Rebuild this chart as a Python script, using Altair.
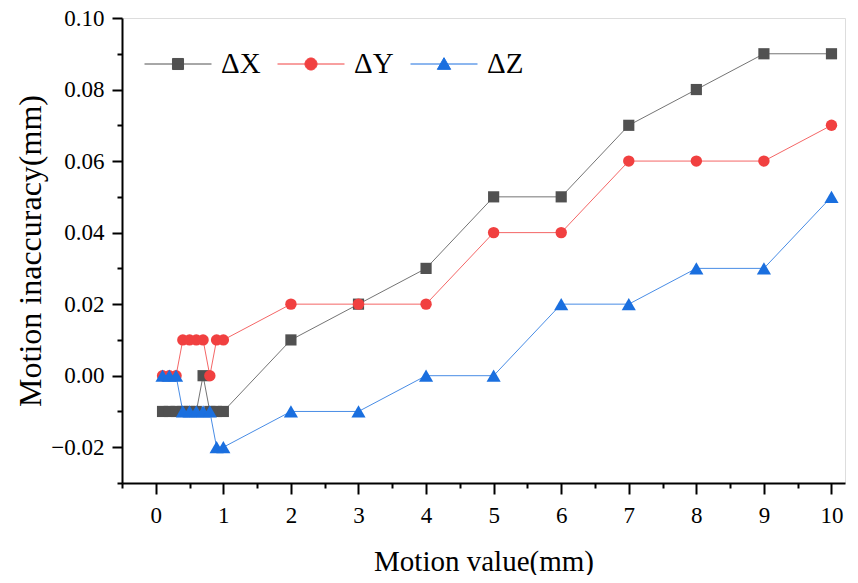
import altair as alt
import pandas as pd

# ---- data ----
x_vals = [0.1, 0.2, 0.3, 0.4, 0.5, 0.6, 0.7, 0.8, 0.9, 1.0, 2, 3, 4, 5, 6, 7, 8, 9, 10]
dX = [-0.01, -0.01, -0.01, -0.01, -0.01, -0.01, 0.0, -0.01, -0.01, -0.01,
      0.01, 0.02, 0.03, 0.05, 0.05, 0.07, 0.08, 0.09, 0.09]
dY = [0.0, 0.0, 0.0, 0.01, 0.01, 0.01, 0.01, 0.0, 0.01, 0.01,
      0.02, 0.02, 0.02, 0.04, 0.04, 0.06, 0.06, 0.06, 0.07]
dZ = [0.0, 0.0, 0.0, -0.01, -0.01, -0.01, -0.01, -0.01, -0.02, -0.02,
      -0.01, -0.01, 0.0, 0.0, 0.02, 0.02, 0.03, 0.03, 0.05]
series_names = ["ΔX", "ΔY", "ΔZ"]
series_colors = ["#515151", "#F14040", "#1A6FDF"]
series_shapes = ["square", "circle", "triangle-up"]
series_sizes = [125, 130, 200]
legend_paths = [
    "M-1,0H1M-0.165,-0.165H0.165V0.165H-0.165Z",
    "M-1,0H1M-0.18,0A0.18,0.18,0,1,0,0.18,0A0.18,0.18,0,1,0,-0.18,0Z",
    "M-1,0H1M0,-0.19L0.2,0.16L-0.2,0.16Z",
]

x_major = [0, 1, 2, 3, 4, 5, 6, 7, 8, 9, 10]
x_minor = [-0.5, 0.5, 1.5, 2.5, 3.5, 4.5, 5.5, 6.5, 7.5, 8.5, 9.5]
y_major = [-0.02, 0.0, 0.02, 0.04, 0.06, 0.08, 0.10]
y_minor = [-0.03, -0.01, 0.01, 0.03, 0.05, 0.07, 0.09]

rows = []
for name, vals in zip(series_names, [dX, dY, dZ]):
    for i, (xv, yv) in enumerate(zip(x_vals, vals)):
        rows.append({"series": name, "x": xv, "y": yv, "i": i})
df = pd.DataFrame(rows)

FONT = "Liberation Serif"

xscale = alt.Scale(domain=[-0.5, 10.2], nice=False, zero=False)
yscale = alt.Scale(domain=[-0.03, 0.10], nice=False, zero=False)

legend = alt.Legend(
    title=None,
    orient="none",
    legendX=22,
    legendY=12,
    direction="horizontal",
    labelFont=FONT,
    labelFontSize=29,
    labelColor="black",
    labelOffset=9,
    columnPadding=14,
    symbolSize=4489,
    symbolStrokeWidth=1,
    symbolOpacity=1,
)

x_axis = alt.Axis(
    orient="bottom", values=x_major, format="d", title="Motion value(mm)",
    labelFont=FONT, labelFontSize=23, labelColor="black", labelPadding=10,
    titleFont=FONT, titleFontSize=29, titleFontWeight="normal", titleColor="black",
    titlePadding=20,
    tickSize=11, tickWidth=2, tickColor="black",
    domainWidth=2, domainColor="black", grid=False,
)
y_axis = alt.Axis(
    orient="left", values=y_major, format=".2f", title="Motion inaccuracy(mm)",
    labelFont=FONT, labelFontSize=23, labelColor="black", labelPadding=8,
    titleFont=FONT, titleFontSize=32, titleFontWeight="normal", titleColor="black",
    titlePadding=3,
    tickSize=10, tickWidth=2, tickColor="black",
    domainWidth=2, domainColor="black", grid=False,
)
x_axis_minor = alt.Axis(orient="bottom", values=x_minor, labels=False, title=None, tickSize=5,
                        tickWidth=2, tickColor="black", domain=False, grid=False)
y_axis_minor = alt.Axis(orient="left", values=y_minor, labels=False, title=None, tickSize=5,
                        tickWidth=2, tickColor="black", domain=False, grid=False)

base = alt.Chart(df)

layers = []
first = True
for name, col, shp, sz in zip(series_names, series_colors, series_shapes, series_sizes):
    sub = base.transform_filter(alt.datum.series == name)
    layers.append(
        sub.mark_line(strokeWidth=1, opacity=0.8, color=col).encode(
            x=alt.X("x:Q", scale=xscale, axis=x_axis if first else None),
            y=alt.Y("y:Q", scale=yscale, axis=y_axis if first else None),
            order="i:Q",
        )
    )
    layers.append(
        sub.mark_point(filled=True, opacity=1, shape=shp, size=sz, color=col).encode(
            x=alt.X("x:Q", scale=xscale, axis=None),
            y=alt.Y("y:Q", scale=yscale, axis=None),
        )
    )
    first = False

# legend + minor ticks: no marks drawn (empty after filter);
# legend entries come from the explicit scale domains
legend_layer = base.transform_filter("datum.x > 1000").mark_point(filled=True, opacity=1).encode(
    x=alt.X("x:Q", scale=xscale, axis=x_axis_minor),
    y=alt.Y("y:Q", scale=yscale, axis=y_axis_minor),
    fill=alt.Fill("series:N", scale=alt.Scale(domain=series_names, range=series_colors), legend=legend),
    stroke=alt.Stroke("series:N", scale=alt.Scale(domain=series_names, range=series_colors), legend=legend),
    shape=alt.Shape("series:N", scale=alt.Scale(domain=series_names, range=legend_paths), legend=legend),
)

chart = alt.layer(*layers, legend_layer).resolve_axis(
    x="independent", y="independent"
).properties(
    width=723,
    height=465,
    autosize=alt.AutoSizeParams(type="none"),
    padding={"left": 114, "top": 10, "right": 5, "bottom": 92},
).configure_view(stroke=None).configure_axis(labelFont=FONT, titleFont=FONT).configure(background="white")

chart.save("out.html", embed_options={"renderer": "svg", "actions": False})
